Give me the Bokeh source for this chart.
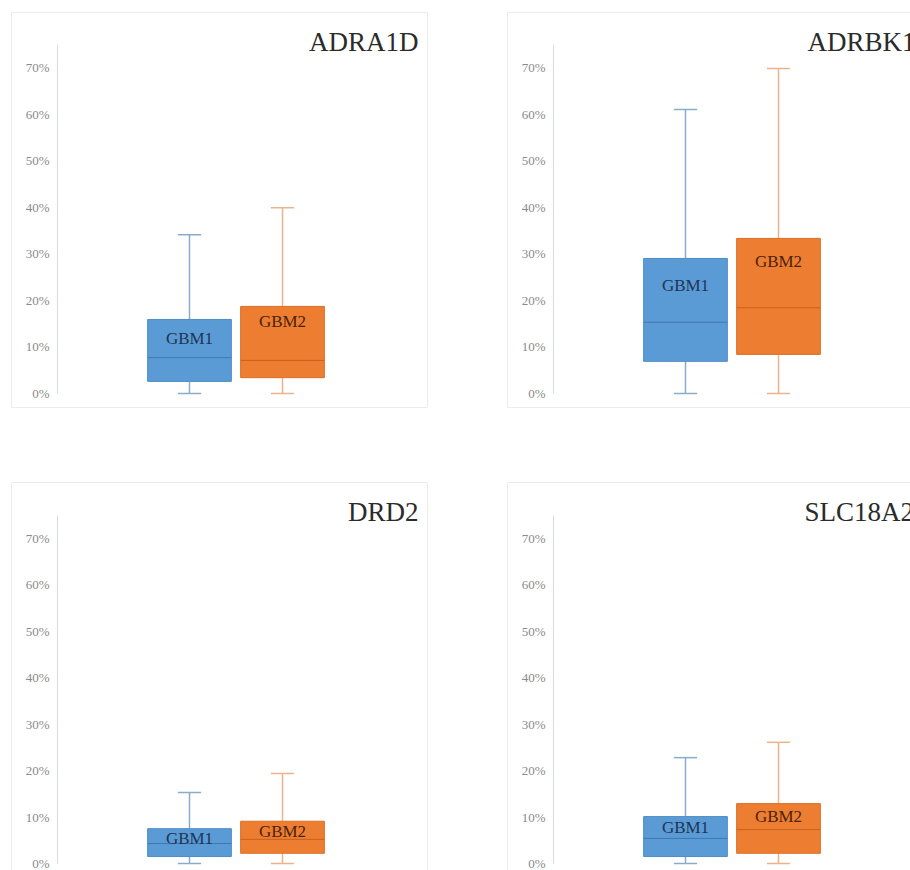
from bokeh.plotting import figure
from bokeh.layouts import column, row
from bokeh.models import LinearAxis, FixedTicker, NumeralTickFormatter, Span
from bokeh.core.properties import value
from bokeh.embed import file_html
from bokeh.resources import INLINE

# ---------------- data ----------------
genes = ["ADRA1D", "ADRBK1", "DRD2", "SLC18A2"]
groups = ["GBM1", "GBM2"]
ticks = [0.0, 0.1, 0.2, 0.3, 0.4, 0.5, 0.6, 0.7]

gbm1_low = [0.0, 0.0, 0.0, 0.0]
gbm1_q1 = [0.026, 0.069, 0.015, 0.015]
gbm1_med = [0.077, 0.153, 0.043, 0.054]
gbm1_q3 = [0.159, 0.290, 0.075, 0.101]
gbm1_high = [0.341, 0.610, 0.153, 0.228]

gbm2_low = [0.0, 0.0, 0.0, 0.0]
gbm2_q1 = [0.034, 0.084, 0.022, 0.022]
gbm2_med = [0.071, 0.184, 0.052, 0.073]
gbm2_q3 = [0.187, 0.333, 0.091, 0.129]
gbm2_high = [0.399, 0.698, 0.194, 0.261]

# where the group name labels sit (value axis)
gbm1_label_at = [0.118, 0.232, 0.054, 0.078]
gbm2_label_at = [0.155, 0.283, 0.069, 0.101]

# ---------------- style ----------------
FILL = ["#5b9bd5", "#ed7d31"]
EDGE = ["#4f8cc4", "#dc6e25"]
MED = ["#3f78b0", "#c8621c"]
WHISK = ["#8aaccb", "#ecb38c"]
LABEL_COL = ["#1d3553", "#4a230c"]
SERIF = "Liberation Serif"
PX_PER_UNIT_X = 93.0
X_START = -0.914
BOX_W = 0.9
CAP_W = 0.25
AXIS_X = -0.419


def make_panel(i, width, height, mbl, mbr, mbt, mbb, zero_from_bottom, px_per_unit,
               border_sides, title_align, title_off):
    fw = width - mbl - mbr
    fh = height - mbt - mbb
    x_end = X_START + fw / PX_PER_UNIT_X
    y_start = -zero_from_bottom / px_per_unit
    y_end = y_start + fh / px_per_unit
    p = figure(width=width, height=height, output_backend="svg", toolbar_location=None,
               x_range=(X_START, x_end), y_range=(y_start, y_end),
               x_axis_location=None, y_axis_location=None,
               min_border_left=mbl, min_border_right=mbr,
               min_border_top=mbt, min_border_bottom=mbb)
    p.grid.visible = False
    p.outline_line_color = None
    p.background_fill_color = "white"
    p.border_fill_color = "white"

    ax = LinearAxis(fixed_location=AXIS_X, bounds=(0, 0.75),
                    ticker=FixedTicker(ticks=ticks),
                    formatter=NumeralTickFormatter(format="0%"))
    ax.axis_line_color = "#d9d9d9"
    ax.axis_line_width = 1
    ax.major_tick_line_color = None
    ax.minor_tick_line_color = None
    ax.major_tick_out = 0
    ax.major_tick_in = 0
    ax.major_label_standoff = 8
    ax.major_label_text_font = SERIF
    ax.major_label_text_font_size = "13px"
    ax.major_label_text_color = "#8a8a8a"
    p.add_layout(ax, "left")

    # panel border
    bc = "#d9d9d9"
    if "top" in border_sides:
        p.add_layout(Span(location=y_end, dimension="width", line_color=bc, line_width=1))
    if "bottom" in border_sides:
        p.add_layout(Span(location=y_start, dimension="width", line_color=bc, line_width=1))
    if "left" in border_sides:
        p.add_layout(Span(location=X_START, dimension="height", line_color=bc, line_width=1))
    if "right" in border_sides:
        p.add_layout(Span(location=x_end, dimension="height", line_color=bc, line_width=1))

    stats = [
        (gbm1_low[i], gbm1_q1[i], gbm1_med[i], gbm1_q3[i], gbm1_high[i], gbm1_label_at[i]),
        (gbm2_low[i], gbm2_q1[i], gbm2_med[i], gbm2_q3[i], gbm2_high[i], gbm2_label_at[i]),
    ]
    for g, (lo, q1, med, q3, hi, lab) in enumerate(stats):
        x = g + 1
        # whiskers
        p.segment(x0=[x, x], y0=[q3, lo], x1=[x, x], y1=[hi, q1],
                  line_color=WHISK[g], line_width=1.5)
        p.segment(x0=[x - CAP_W / 2, x - CAP_W / 2], y0=[hi, lo],
                  x1=[x + CAP_W / 2, x + CAP_W / 2], y1=[hi, lo],
                  line_color=WHISK[g], line_width=1.5)
        # box
        p.vbar(x=[x], width=BOX_W, bottom=[q1], top=[q3],
               fill_color=FILL[g], line_color=EDGE[g], line_width=1)
        # median
        p.segment(x0=[x - BOX_W / 2], y0=[med], x1=[x + BOX_W / 2], y1=[med],
                  line_color=MED[g], line_width=1)
        # group label
        p.text(x=[x], y=[lab], text=[groups[g]], text_align="center",
               text_baseline="middle", text_font=value(SERIF),
               text_font_size=value("17px"), text_color=LABEL_COL[g])

    # gene title inside the panel
    ty = y_end - 29 / px_per_unit
    if title_align == "right":
        tx = x_end - title_off / PX_PER_UNIT_X
    else:
        tx = X_START + title_off / PX_PER_UNIT_X
    p.text(x=[tx], y=[ty], text=[genes[i]], text_align=title_align,
           text_baseline="alphabetic", text_font=value(SERIF),
           text_font_size=value("27px"), text_color="#2b2b2b")
    return p


TOP_SCALE = 465.7
BOT_SCALE = 464.3

p1 = make_panel(0, 498, 478, 11, 71, 12, 71, 14, TOP_SCALE,
                ["top", "bottom", "left", "right"], "right", 9)
p2 = make_panel(1, 412, 478, 9, 0, 12, 71, 14, TOP_SCALE,
                ["top", "bottom", "left"], "left", 300)
p3 = make_panel(2, 498, 392, 11, 71, 4, 0, 7, BOT_SCALE,
                ["top", "left", "right"], "right", 9)
p4 = make_panel(3, 412, 392, 9, 0, 4, 0, 7, BOT_SCALE,
                ["top", "left"], "left", 297)

layout = column(row(p1, p2), row(p3, p4))

with open("out.html", "w") as f:
    f.write(file_html(layout, INLINE))
